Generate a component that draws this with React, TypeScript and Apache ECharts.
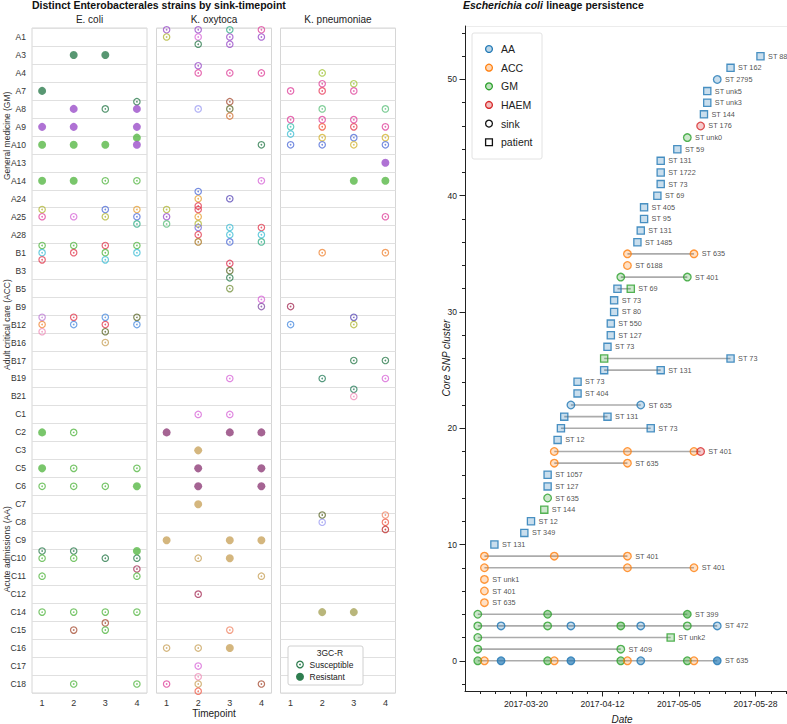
import React, { useEffect, useRef } from 'react';
import * as echarts from 'echarts';

const FONT = '"Liberation Sans", Arial, Helvetica, sans-serif';

// ---------------- Left panel data ----------------
const ROWS = ['A1','A3','A4','A7','A8','A9','A10','A13','A14','A24','A25','A28','B1','B3','B5','B9','B12','B16','B17','B19','B21','C1','C2','C3','C5','C6','C7','C8','C9','C10','C11','C12','C14','C15','C16','C17','C18'];
const WARD_GROUPS: [string, string, string][] = [
  ['General medicine (GM)', 'A1', 'A28'],
  ['Adult critical care (ACC)', 'B1', 'B21'],
  ['Acute admissions (AA)', 'C1', 'C18'],
];
const SPECIES = ['E. coli', 'K. oxytoca', 'K. pneumoniae'];
const TIMEPOINTS = [1, 2, 3, 4];

const STRAIN_COLORS: Record<string, string> = {
  dkgreen: '#2e7d4f', green: '#57b846', purple: '#9b4fc9', olive: '#b3b83a', magenta: '#e0479e',
  orchid: '#d86ad8', blue: '#5470d8', amber: '#e6a23a', teal: '#38b08a', cyan: '#45bfd6',
  red: '#e23f52', lilac: '#bf7fd6', orange: '#f08a3c', pink: '#ef8fb9', skyblue: '#4f8fe0',
  darkolive: '#5f6a2c', tan: '#c9a45e', wine: '#a8325a', rust: '#a9533a', lavender: '#9f9ff2',
  burnt: '#d2763a', indigo: '#5b4bb8', mint: '#62c27f', periwinkle: '#7a6ee0', bronze: '#a8741e',
  crimson: '#df3352', moss: '#7b9543', grape: '#8452a6', plum: '#8e3d78', salmon: '#f08a6a',
  coral: '#f0604c', lime: '#a3c63c', rose: '#e8405e', aqua: '#3fc2b2', vermilion: '#f05438',
  gold: '#d4b534', seagreen: '#2a7f5e', brick: '#c0302e', khaki: '#a8a45a',
};

// [sink, timepoint, strains top-to-bottom]; a trailing "!" marks a 3GC-resistant strain
type Cell = [string, number, string[]];
const ECOLI_CELLS: Cell[] = [
  ['A3',2,['dkgreen!']],['A3',3,['dkgreen!']],
  ['A7',1,['dkgreen!']],
  ['A8',2,['purple!']],['A8',3,['dkgreen']],['A8',4,['dkgreen','purple!']],
  ['A9',1,['purple!']],['A9',2,['purple!']],['A9',4,['purple!']],
  ['A10',1,['green!']],['A10',2,['green!']],['A10',3,['green!']],['A10',4,['green!','purple!']],
  ['A14',1,['green!']],['A14',2,['green!']],['A14',3,['green']],['A14',4,['green']],
  ['A25',1,['olive','magenta']],['A25',2,['orchid']],['A25',3,['blue','olive']],['A25',4,['amber','blue','teal']],
  ['B1',1,['green','cyan','red']],['B1',2,['green','red']],['B1',3,['red','green','cyan']],['B1',4,['green','cyan']],
  ['B12',1,['lilac','orange','pink']],['B12',2,['red','skyblue']],['B12',3,['skyblue','red','darkolive']],['B12',4,['darkolive','skyblue']],
  ['B16',3,['tan']],
  ['C2',1,['green!']],['C2',2,['green']],
  ['C5',1,['green!']],['C5',2,['green']],['C5',4,['green']],
  ['C6',1,['green']],['C6',2,['green']],['C6',3,['green']],['C6',4,['green!']],
  ['C10',1,['dkgreen','green']],['C10',2,['dkgreen','green']],['C10',3,['dkgreen']],['C10',4,['green!','dkgreen']],
  ['C11',1,['green']],['C11',4,['wine','green']],
  ['C14',1,['green']],['C14',2,['green']],['C14',3,['green']],['C14',4,['green']],
  ['C15',2,['rust']],['C15',3,['rust','green']],
  ['C18',2,['green']],['C18',4,['green']],
];
const KOXY_CELLS: Cell[] = [
  ['A1',1,['purple','olive']],['A1',2,['purple','orchid','dkgreen']],['A1',3,['teal','purple','purple']],['A1',4,['magenta','purple']],
  ['A4',2,['purple','magenta']],['A4',3,['magenta']],['A4',4,['magenta']],
  ['A8',2,['lavender']],['A8',3,['rust','darkolive','burnt']],
  ['A10',4,['dkgreen']],
  ['A14',4,['orchid']],
  ['A24',2,['blue','amber','red']],['A24',3,['indigo']],
  ['A25',1,['olive','purple','mint']],['A25',2,['red','amber','olive']],
  ['A28',2,['periwinkle','red','bronze']],['A28',3,['cyan','cyan','blue']],['A28',4,['red','cyan','teal']],
  ['B3',3,['crimson','darkolive','dkgreen']],
  ['B5',3,['moss']],
  ['B9',4,['orchid','grape']],
  ['B19',3,['orchid']],
  ['C1',2,['orchid']],['C1',3,['orchid']],
  ['C2',1,['plum!']],['C2',3,['plum!']],['C2',4,['plum!']],
  ['C3',2,['tan!']],
  ['C5',2,['plum!']],['C5',4,['plum!']],
  ['C6',2,['plum!']],['C6',4,['plum!']],
  ['C7',2,['tan!']],
  ['C9',1,['tan!']],['C9',3,['tan!']],['C9',4,['tan!']],
  ['C10',2,['tan']],['C10',3,['tan!']],
  ['C11',4,['tan']],
  ['C12',2,['wine']],
  ['C15',3,['salmon']],
  ['C16',1,['tan']],['C16',2,['tan']],['C16',3,['tan!']],
  ['C17',2,['orchid']],
  ['C18',1,['magenta']],['C18',2,['pink','tan','coral']],['C18',4,['rust']],
];
const KPNEU_CELLS: Cell[] = [
  ['A4',2,['lime']],
  ['A7',1,['magenta']],['A7',2,['magenta','rose']],['A7',3,['lime','magenta']],
  ['A8',2,['mint']],['A8',4,['mint']],
  ['A9',1,['magenta','aqua','cyan']],['A9',2,['magenta','vermilion']],['A9',3,['magenta','red']],['A9',4,['magenta']],
  ['A10',1,['blue']],['A10',2,['gold','blue']],['A10',3,['blue','gold']],['A10',4,['gold','blue']],
  ['A13',4,['purple!']],
  ['A14',3,['green!']],['A14',4,['green!']],
  ['A25',4,['magenta']],
  ['B1',2,['orange']],['B1',4,['orange']],
  ['B9',1,['wine']],
  ['B12',1,['skyblue']],['B12',3,['indigo','olive']],
  ['B17',3,['dkgreen']],['B17',4,['dkgreen']],
  ['B19',2,['seagreen']],['B19',4,['orchid']],
  ['B21',3,['seagreen','pink']],
  ['C8',2,['darkolive','lavender']],['C8',4,['salmon','coral','brick']],
  ['C14',2,['khaki!']],['C14',3,['khaki!']],
];
const FACET_CELLS = [ECOLI_CELLS, KOXY_CELLS, KPNEU_CELLS];
const LEGEND_3GC = ['Susceptible', 'Resistant'];

// ---------------- Right panel data ----------------
const CLUSTER_LABELS = ['ST 635','ST 409','ST unk2','ST 472','ST 399','ST 635','ST 401','ST unk1','ST 401','ST 401','ST 131','ST 349','ST 12','ST 144','ST 635','ST 127','ST 1057','ST 635','ST 401','ST 12','ST 73','ST 131','ST 635','ST 404','ST 73','ST 131','ST 73','ST 73','ST 127','ST 550','ST 80','ST 73','ST 69','ST 401','ST 6188','ST 635','ST 1485','ST 131','ST 95','ST 405','ST 69','ST 73','ST 1722','ST 131','ST 59','ST unk0','ST 176','ST 144','ST unk3','ST unk5','ST 2795','ST 162','ST 88'];
// [cluster, date, ward, source, isolates]
const LINEAGE_POINTS: [number, string, string, string, number][] = [
  [0,'2017-03-05','GM','sink',2],[0,'2017-03-07','ACC','sink',1],[0,'2017-03-12','AA','sink',5],[0,'2017-03-26','GM','sink',2],[0,'2017-03-28','ACC','sink',1],[0,'2017-04-02','AA','sink',5],
  [0,'2017-04-17','GM','sink',2],[0,'2017-04-19','ACC','sink',1],[0,'2017-04-23','AA','sink',2],[0,'2017-05-07','GM','sink',2],[0,'2017-05-09','ACC','sink',1],[0,'2017-05-16','AA','sink',5],
  [1,'2017-03-05','GM','sink',1],[1,'2017-04-17','GM','sink',1],
  [2,'2017-03-05','GM','sink',1],[2,'2017-05-02','GM','patient',1],
  [3,'2017-03-05','GM','sink',1],[3,'2017-03-12','AA','sink',1],[3,'2017-03-26','GM','sink',1],[3,'2017-04-02','AA','sink',1],[3,'2017-04-17','GM','sink',2],[3,'2017-04-23','AA','sink',1],[3,'2017-05-07','GM','sink',1],[3,'2017-05-16','AA','sink',1],
  [4,'2017-03-05','GM','sink',1],[4,'2017-03-26','GM','sink',2],[4,'2017-05-07','GM','sink',3],
  [5,'2017-03-07','ACC','sink',1],
  [6,'2017-03-07','ACC','sink',1],
  [7,'2017-03-07','ACC','sink',1],
  [8,'2017-03-07','ACC','sink',1],[8,'2017-04-19','ACC','sink',1],[8,'2017-05-09','ACC','sink',1],
  [9,'2017-03-07','ACC','sink',1],[9,'2017-03-28','ACC','sink',1],[9,'2017-04-19','ACC','sink',1],
  [10,'2017-03-10','AA','patient',1],
  [11,'2017-03-19','AA','patient',1],
  [12,'2017-03-21','AA','patient',1],
  [13,'2017-03-25','GM','patient',1],
  [14,'2017-03-26','GM','sink',1],
  [15,'2017-03-26','AA','patient',1],
  [16,'2017-03-26','AA','patient',1],
  [17,'2017-03-28','ACC','sink',1],[17,'2017-04-19','ACC','sink',1],
  [18,'2017-03-28','ACC','sink',1],[18,'2017-04-19','ACC','sink',1],[18,'2017-05-09','ACC','sink',1],[18,'2017-05-11','HAEM','sink',1],
  [19,'2017-03-29','AA','patient',1],
  [20,'2017-03-30','AA','patient',1],[20,'2017-04-26','AA','patient',1],
  [21,'2017-03-31','AA','patient',1],[21,'2017-04-13','AA','patient',1],
  [22,'2017-04-02','AA','sink',1],[22,'2017-04-23','AA','sink',1],
  [23,'2017-04-04','AA','patient',1],
  [24,'2017-04-04','AA','patient',1],
  [25,'2017-04-12','AA','patient',1],[25,'2017-04-29','AA','patient',1],
  [26,'2017-04-12','GM','patient',1],[26,'2017-05-20','AA','patient',1],
  [27,'2017-04-13','AA','patient',1],
  [28,'2017-04-14','AA','patient',1],
  [29,'2017-04-14','AA','patient',1],
  [30,'2017-04-15','AA','patient',1],
  [31,'2017-04-15','AA','patient',1],
  [32,'2017-04-16','AA','patient',1],[32,'2017-04-20','GM','patient',1],
  [33,'2017-04-17','GM','sink',1],[33,'2017-05-07','GM','sink',1],
  [34,'2017-04-19','ACC','sink',1],
  [35,'2017-04-19','ACC','sink',1],[35,'2017-05-09','ACC','sink',1],
  [36,'2017-04-22','AA','patient',1],
  [37,'2017-04-23','AA','patient',1],
  [38,'2017-04-24','AA','patient',1],
  [39,'2017-04-24','AA','patient',1],
  [40,'2017-04-28','AA','patient',1],
  [41,'2017-04-29','AA','patient',1],
  [42,'2017-04-29','AA','patient',1],
  [43,'2017-04-29','AA','patient',1],
  [44,'2017-05-04','AA','patient',1],
  [45,'2017-05-07','GM','sink',1],
  [46,'2017-05-11','HAEM','sink',1],
  [47,'2017-05-12','AA','patient',1],
  [48,'2017-05-13','AA','patient',1],
  [49,'2017-05-13','AA','patient',1],
  [50,'2017-05-16','AA','sink',1],
  [51,'2017-05-20','AA','patient',1],
  [52,'2017-05-29','AA','patient',1],
];
const WARD_COLORS: Record<string, string> = { AA: '#1f77b4', ACC: '#ff7f0e', GM: '#2ca02c', HAEM: '#d62728' };
const WARD_LEGEND = ['AA', 'ACC', 'GM', 'HAEM'];
const SOURCE_LEGEND = ['sink', 'patient'];
const DATE_TICKS = ['2017-03-20', '2017-04-12', '2017-05-05', '2017-05-28'];
const CLUSTER_TICKS = [0, 10, 20, 30, 40, 50];

// ---------------- Layout ----------------
const FACET_LEFT = [32, 156.5, 280.5];
const FACET_W = 115;
const PANEL_TOP = 28;
const PANEL_H = 665;
const STACK_STEP = 0.4;
const R_LEFT = 465, R_TOP = 26, R_W = 322, R_H = 665;
const BASE = Date.UTC(2017, 2, 20);
const DAY = 86400000;
const PX_PER_DAY = 3.326;
const X_MIN = (R_LEFT - 526) / PX_PER_DAY;
const X_MAX = X_MIN + R_W / PX_PER_DAY;

function dayOf(s: string): number {
  const [y, m, d] = s.split('-').map(Number);
  return (Date.UTC(y, m - 1, d) - BASE) / DAY;
}
function dayLabel(v: number): string {
  return new Date(BASE + Math.round(v) * DAY).toISOString().slice(0, 10);
}
function rgba(hex: string, a: number): string {
  const n = parseInt(hex.slice(1), 16);
  return `rgba(${(n >> 16) & 255},${(n >> 8) & 255},${n & 255},${a})`;
}

function buildOption() {
  const grid: any[] = [];
  const xAxis: any[] = [];
  const yAxis: any[] = [];
  const series: any[] = [];
  const graphic: any[] = [];
  const rowH = PANEL_H / ROWS.length;

  FACET_LEFT.forEach((left, i) => {
    grid.push({ left, top: PANEL_TOP, width: FACET_W, height: PANEL_H, show: true, borderColor: '#d6d6d6', borderWidth: 1 });
    xAxis.push({
      type: 'value', gridIndex: i, min: 0.68, max: 4.32, position: 'bottom',
      axisLine: { show: false, onZero: false }, axisTick: { show: false }, splitLine: { show: false },
      axisLabel: { customValues: TIMEPOINTS, fontSize: 9, color: '#333', margin: 5, fontFamily: FONT },
    });
  });
  FACET_LEFT.forEach((_, i) => {
    yAxis.push({
      type: 'category', gridIndex: i, data: ROWS, inverse: true, position: 'left',
      axisLine: { show: false }, axisTick: { show: false, interval: 0 },
      axisLabel: { show: i === 0, interval: 0, fontSize: 8.5, color: '#333', margin: 6, fontFamily: FONT },
      splitLine: { show: true, interval: 0, lineStyle: { color: '#e0e0e0', width: 1 } },
    });
  });
  FACET_LEFT.forEach((_, i) => {
    yAxis.push({ type: 'value', gridIndex: i, min: -0.5, max: ROWS.length - 0.5, inverse: true, show: false, position: 'right' });
  });

  FACET_CELLS.forEach((cells, i) => {
    const hollow: any[] = [], dots: any[] = [], filled: any[] = [];
    cells.forEach(([row, tp, strains]) => {
      const n = strains.length;
      strains.forEach((code, k) => {
        const res = code.endsWith('!');
        const col = STRAIN_COLORS[code.replace('!', '')];
        const y = ROWS.indexOf(row) + (k - Math.floor(n / 2)) * STACK_STEP;
        if (res) filled.push({ value: [tp, y], itemStyle: { color: col } });
        else {
          hollow.push({ value: [tp, y], itemStyle: { color: 'rgba(255,255,255,0)', borderColor: col } });
          dots.push({ value: [tp, y], itemStyle: { color: col } });
        }
      });
    });
    series.push({ type: 'scatter', xAxisIndex: i, yAxisIndex: 3 + i, symbol: 'circle', symbolSize: 6.4, itemStyle: { borderWidth: 1.2 }, data: hollow, z: 3, silent: true });
    series.push({ type: 'scatter', xAxisIndex: i, yAxisIndex: 3 + i, symbol: 'circle', symbolSize: 1.7, data: dots, z: 4, silent: true });
    series.push({ type: 'scatter', xAxisIndex: i, yAxisIndex: 3 + i, symbol: 'circle', symbolSize: 8, data: filled, z: 3, silent: true });

    graphic.push({ type: 'text', x: FACET_LEFT[i] + FACET_W / 2, y: 19, z: 100,
      style: { text: SPECIES[i], fontSize: 10, fontFamily: FONT, fill: '#222', textAlign: 'center', textVerticalAlign: 'middle', align: 'center', verticalAlign: 'middle' } });
  });

  WARD_GROUPS.forEach(([name, a, b]) => {
    const cy = PANEL_TOP + ((ROWS.indexOf(a) + ROWS.indexOf(b) + 1) / 2) * rowH;
    graphic.push({ type: 'text', x: 7, y: cy, rotation: Math.PI / 2, z: 100,
      style: { text: name, fontSize: 8.5, fontFamily: FONT, fill: '#333', textAlign: 'center', textVerticalAlign: 'middle', align: 'center', verticalAlign: 'middle' } });
  });

  // left titles
  graphic.push({ type: 'text', x: 32, y: 5, z: 100,
    style: { text: 'Distinct Enterobacterales strains by sink-timepoint', fontSize: 10.5, fontWeight: 'bold', fontFamily: FONT, fill: '#111', textVerticalAlign: 'middle', verticalAlign: 'middle' } });
  graphic.push({ type: 'text', x: 214, y: 713, z: 100,
    style: { text: 'Timepoint', fontSize: 10, fontFamily: FONT, fill: '#222', textAlign: 'center', textVerticalAlign: 'middle', align: 'center', verticalAlign: 'middle' } });

  // left legend
  const lg = { x: 288, y: 646, w: 75, h: 39 };
  graphic.push({ type: 'rect', z: 100, shape: { x: lg.x, y: lg.y, width: lg.w, height: lg.h, r: 2 }, style: { fill: '#fff', stroke: '#d0d0d0', lineWidth: 1 } });
  graphic.push({ type: 'text', x: 330, y: 653, z: 101,
    style: { text: '3GC-R', fontSize: 8.5, fontFamily: FONT, fill: '#222', textAlign: 'center', textVerticalAlign: 'middle', align: 'center', verticalAlign: 'middle' } });
  LEGEND_3GC.forEach((lab, k) => {
    const cy = 664.5 + k * 12.3;
    if (k === 0) {
      graphic.push({ type: 'circle', z: 101, shape: { cx: 300, cy, r: 3.3 }, style: { fill: 'none', stroke: STRAIN_COLORS.dkgreen, lineWidth: 1.2 } });
      graphic.push({ type: 'circle', z: 101, shape: { cx: 300, cy, r: 0.85 }, style: { fill: STRAIN_COLORS.dkgreen } });
    } else {
      graphic.push({ type: 'circle', z: 101, shape: { cx: 300, cy, r: 4 }, style: { fill: STRAIN_COLORS.dkgreen } });
    }
    graphic.push({ type: 'text', x: 309.5, y: cy, z: 101,
      style: { text: lab, fontSize: 8.5, fontFamily: FONT, fill: '#222', textVerticalAlign: 'middle', verticalAlign: 'middle' } });
  });

  // ---------------- right panel ----------------
  const gi = 3;
  grid.push({ left: R_LEFT, top: R_TOP, width: R_W, height: R_H, show: false });
  graphic.push({ type: 'line', z: 0, shape: { x1: R_LEFT, y1: R_TOP + 0.5, x2: R_LEFT + R_W, y2: R_TOP + 0.5 }, style: { stroke: '#ececec', lineWidth: 1 } });
  const xMajor = DATE_TICKS.map(dayOf);
  const xMinor: number[] = [];
  for (let k = -4; k <= 20; k++) {
    const v = +(k * 4.6).toFixed(2);
    if (k % 5 !== 0 && v > X_MIN && v < X_MAX) xMinor.push(v);
  }
  const yMinor: number[] = [];
  for (let v = -2; v <= 54; v += 2) if (v % 10 !== 0) yMinor.push(v);

  xAxis.push({
    type: 'value', gridIndex: gi, min: X_MIN, max: X_MAX, position: 'bottom',
    axisLine: { show: true, onZero: false, lineStyle: { color: '#222', width: 1 } },
    axisTick: { show: true, customValues: xMajor, length: 5.5, lineStyle: { color: '#222', width: 1 } },
    axisLabel: { customValues: xMajor, formatter: (v: number) => dayLabel(v), fontSize: 8.6, color: '#222', margin: 8, fontFamily: FONT },
    splitLine: { show: false },
  });
  xAxis.push({
    type: 'value', gridIndex: gi, min: X_MIN, max: X_MAX, position: 'bottom',
    axisLine: { show: false, onZero: false },
    axisTick: { show: true, customValues: xMinor, length: 3, lineStyle: { color: '#222', width: 1 } },
    axisLabel: { show: false }, splitLine: { show: false },
  });
  yAxis.push({
    type: 'value', gridIndex: gi, min: -2.6, max: 54.6, position: 'left',
    axisLine: { show: true, onZero: false, lineStyle: { color: '#222', width: 1 } },
    axisTick: { show: true, customValues: CLUSTER_TICKS, length: 5.5, lineStyle: { color: '#222', width: 1 } },
    axisLabel: { customValues: CLUSTER_TICKS, fontSize: 8.5, color: '#222', margin: 8, fontFamily: FONT },
    splitLine: { show: false },
  });
  yAxis.push({
    type: 'value', gridIndex: gi, min: -2.6, max: 54.6, position: 'left',
    axisLine: { show: false, onZero: false },
    axisTick: { show: true, customValues: yMinor, length: 3, lineStyle: { color: '#222', width: 1 } },
    axisLabel: { show: false }, splitLine: { show: false },
  });
  const rxi = 3, ryi = 6;

  // connecting lines
  CLUSTER_LABELS.forEach((_, c) => {
    const xs = LINEAGE_POINTS.filter((p) => p[0] === c).map((p) => dayOf(p[1]) + 0.5);
    if (xs.length > 1) {
      series.push({ type: 'line', xAxisIndex: rxi, yAxisIndex: ryi, data: [[Math.min(...xs), c], [Math.max(...xs), c]],
        symbol: 'none', lineStyle: { color: '#ababab', width: 1.6 }, z: 1, silent: true });
    }
  });
  const lastX: Record<number, number> = {};
  LINEAGE_POINTS.forEach((p) => { const x = dayOf(p[1]) + 0.5; if (lastX[p[0]] === undefined || x > lastX[p[0]]) lastX[p[0]] = x; });
  const labelled: Record<number, boolean> = {};
  const pts = LINEAGE_POINTS.map(([c, d, ward, src, n]) => {
    const x = dayOf(d) + 0.5;
    const col = WARD_COLORS[ward];
    const alpha = 1 - Math.pow(0.7, n);
    const isLast = x === lastX[c] && !labelled[c];
    if (isLast) labelled[c] = true;
    return {
      value: [x, c],
      symbol: src === 'sink' ? 'circle' : 'rect',
      symbolSize: src === 'sink' ? 7.6 : 7.2,
      itemStyle: { color: rgba(col, alpha), borderColor: col, borderWidth: 1.3 },
      label: isLast ? { show: true, position: 'right', distance: 3.3, formatter: CLUSTER_LABELS[c], fontSize: 7.3, color: '#222', fontFamily: FONT } : { show: false },
    };
  });
  series.push({ type: 'scatter', xAxisIndex: rxi, yAxisIndex: ryi, data: pts, z: 3, silent: true });

  // right titles / names
  graphic.push({ type: 'text', x: 463, y: 5, z: 100,
    style: {
      text: '{i|Escherichia coli} {b|lineage persistence}', fill: '#111', textVerticalAlign: 'middle', verticalAlign: 'middle',
      rich: {
        i: { fontStyle: 'italic', fontWeight: 'bold', fontSize: 10.5, fontFamily: FONT, fill: '#111' },
        b: { fontWeight: 'bold', fontSize: 10.5, fontFamily: FONT, fill: '#111' },
      },
    } });
  graphic.push({ type: 'text', x: 446, y: 358, rotation: Math.PI / 2, z: 100,
    style: { text: 'Core SNP cluster', fontSize: 10, fontStyle: 'italic', fontFamily: FONT, fill: '#222', textAlign: 'center', textVerticalAlign: 'middle', align: 'center', verticalAlign: 'middle' } });
  graphic.push({ type: 'text', x: 622, y: 719, z: 100,
    style: { text: 'Date', fontSize: 10, fontStyle: 'italic', fontFamily: FONT, fill: '#222', textAlign: 'center', textVerticalAlign: 'middle', align: 'center', verticalAlign: 'middle' } });

  // right legend
  graphic.push({ type: 'rect', z: 100, shape: { x: 472, y: 33, width: 70, height: 126, r: 2 }, style: { fill: '#fff', stroke: '#e2e2e2', lineWidth: 1 } });
  const legendItems = [...WARD_LEGEND, ...SOURCE_LEGEND];
  legendItems.forEach((lab, k) => {
    const cy = 49 + k * 18.65;
    if (WARD_COLORS[lab]) {
      graphic.push({ type: 'circle', z: 101, shape: { cx: 489, cy, r: 3.4 }, style: { fill: rgba(WARD_COLORS[lab], 0.3), stroke: WARD_COLORS[lab], lineWidth: 1.3 } });
    } else if (lab === 'sink') {
      graphic.push({ type: 'circle', z: 101, shape: { cx: 489, cy, r: 3.4 }, style: { fill: 'none', stroke: '#111', lineWidth: 1.3 } });
    } else {
      graphic.push({ type: 'rect', z: 101, shape: { x: 485.6, y: cy - 3.4, width: 6.8, height: 6.8 }, style: { fill: 'none', stroke: '#111', lineWidth: 1.3 } });
    }
    graphic.push({ type: 'text', x: 501, y: cy, z: 101,
      style: { text: lab, fontSize: 10.5, fontFamily: FONT, fill: '#222', textVerticalAlign: 'middle', verticalAlign: 'middle' } });
  });

  return {
    animation: false,
    backgroundColor: '#ffffff',
    textStyle: { fontFamily: FONT },
    grid, xAxis, yAxis, series, graphic,
  };
}

export default function App() {
  const ref = useRef<HTMLDivElement>(null);
  useEffect(() => {
    if (!ref.current) return;
    const chart = echarts.init(ref.current, null, { renderer: 'svg' });
    chart.setOption(buildOption() as any);
    return () => chart.dispose();
  }, []);
  return <div ref={ref} style={{ position: 'fixed', left: 0, top: 0, width: 787, height: 724, background: '#fff' }} />;
}
